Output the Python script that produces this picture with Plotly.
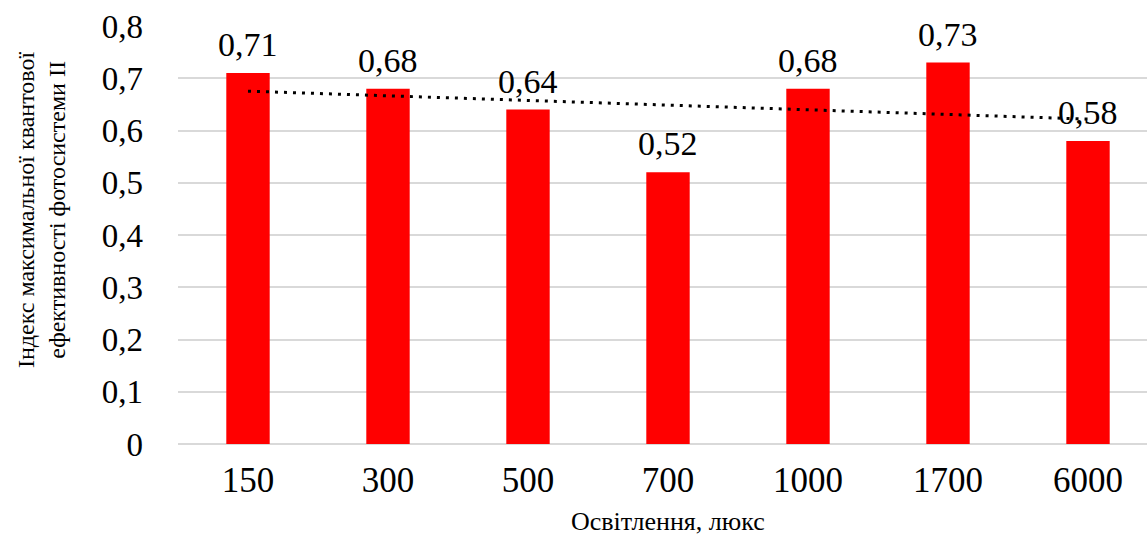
import numpy as np
import plotly.graph_objects as go

# Illumination levels (lux) and PSII maximum quantum efficiency index
categories = ["150", "300", "500", "700", "1000", "1700", "6000"]
values = [0.71, 0.68, 0.64, 0.52, 0.68, 0.73, 0.58]
y_ticks = [0, 0.1, 0.2, 0.3, 0.4, 0.5, 0.6, 0.7, 0.8]

FONT = "Liberation Serif, Times New Roman, serif"

x_idx = np.arange(len(categories))
slope, intercept = np.polyfit(x_idx, values, 1)
trend = slope * x_idx + intercept

fig = go.Figure()
fig.add_trace(go.Bar(
    x=x_idx, y=values,
    marker=dict(color="#ff0000", line=dict(width=0)),
    hoverinfo="y",
))
fig.add_trace(go.Scatter(
    x=x_idx, y=trend, mode="lines",
    line=dict(color="black", width=3, dash="3px,6px"),
    hoverinfo="skip",
))

annotations = []
for i, v in enumerate(values):
    annotations.append(dict(
        x=i, y=v, xref="x", yref="y",
        text=f"{v:.2f}".replace(".", ","),
        showarrow=False, yanchor="bottom", yshift=8,
        font=dict(family=FONT, size=34, color="black"),
    ))

annotations.append(dict(
    x=3, y=0, xref="x", yref="paper",
    text="Освітлення, люкс",
    showarrow=False, yanchor="middle", yshift=-77,
    font=dict(family=FONT, size=26, color="black"),
))
annotations.append(dict(
    x=0, y=(444 - 210) / 418, xref="paper", yref="paper",
    text="Індекс максимальної квантової<br>ефективності фотосистеми ІІ",
    showarrow=False, textangle=-90, xanchor="center", yanchor="middle",
    xshift=-136,
    font=dict(family=FONT, size=24, color="black"),
))

fig.update_layout(
    width=1147, height=535,
    margin=dict(l=178, r=0, t=26, b=91),
    paper_bgcolor="white", plot_bgcolor="white",
    separators=", ",
    showlegend=False,
    bargap=0.69,
    annotations=annotations,
    xaxis=dict(
        tickmode="array", tickvals=x_idx, ticktext=categories,
        range=[-0.5, -0.5 + 969 / 140],
        showgrid=False, zeroline=False, showline=False,
        ticks="", ticklabelstandoff=12,
        tickfont=dict(family=FONT, size=35, color="black"),
    ),
    yaxis=dict(
        range=[0, 0.8], tickmode="array", tickvals=y_ticks,
        showgrid=True, gridcolor="#d9d9d9", gridwidth=2,
        zeroline=True, zerolinecolor="#d9d9d9", zerolinewidth=2,
        showline=False, ticks="", ticklabelstandoff=34,
        tickfont=dict(family=FONT, size=33, color="black"),
    ),
)

fig.write_html("out.html")
